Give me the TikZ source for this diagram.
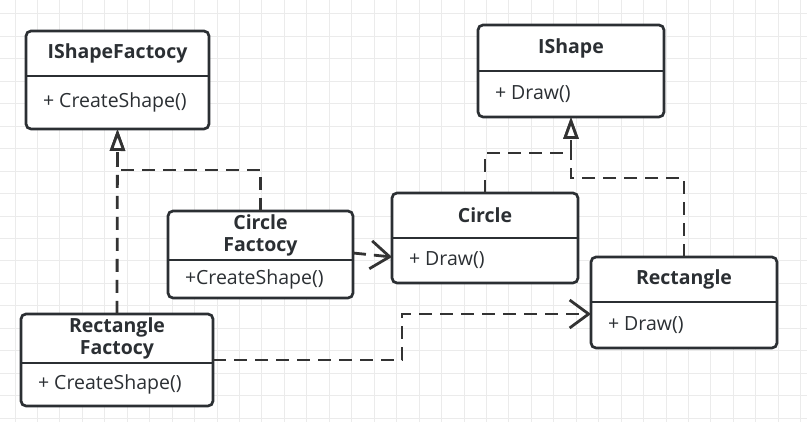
\documentclass[tikz,border=0pt]{standalone}
\usepackage{fontspec}
\setmainfont{Open Sans}
\usetikzlibrary{positioning,arrows.meta}
\definecolor{ink}{HTML}{2B2F33}
\definecolor{gridline}{HTML}{EBEBEB}
\definecolor{wire}{HTML}{333333}

% クラスの箱: 名前, x, y, 幅, 高さ, 見出しの高さ, 見出し, 操作
\newcommand{\umlclass}[8]{%
  \node[classframe, minimum width=#4pt, minimum height=#5pt] (#1) at (#2,#3) {};
  \node[classtitle, minimum width=#4pt, minimum height=#6pt, below=0pt of #1.north] (#1T) {#7};
  \coordinate (#1D) at (#1.west |- #1T.south);
  \draw[classline] (#1D) -- (#1.east |- #1T.south);
  \node[classattr, minimum height=#5pt-#6pt, below right=0pt of #1D] (#1A) {#8};
}

\begin{document}
\begin{tikzpicture}[x=1pt, y=1pt,
    classframe/.style={draw=ink, line width=2.7pt, rounded corners=5pt, fill=white, outer sep=0pt},
    classtitle/.style={inner sep=0pt, outer sep=0pt, align=center, text=ink,
      font=\fontsize{19.5}{22}\selectfont\bfseries},
    classline/.style={draw=ink, line width=2.7pt},
    classattr/.style={inner xsep=17pt, inner ysep=0pt, outer sep=0pt, text=ink,
      font=\fontsize{19.5}{22}\selectfont},
    wire/.style={draw=wire, line width=2.8pt, dash pattern=on 13pt off 8pt},
    realize/.style={wire, -{Triangle[length=22pt, width=15pt, fill=white]}},
    depend/.style={wire, -{Straight Barb[length=19pt, width=28pt]}}]
  % 背景の方眼
  \useasboundingbox[fill=white] (0,0) rectangle (807,422);
  \foreach \k in {0,...,35}
    \draw[gridline, line width=1pt] ({15+22.45*\k},0) -- ({15+22.45*\k},422);
  \foreach \k in {0,...,18}
    \draw[gridline, line width=1pt] (0,{408-22.45*\k}) -- (807,{408-22.45*\k});
  % 工場のインタフェース
  \umlclass{isf}{117.5}{342}{183}{98}{45}{IShapeFactocy}{+ CreateShape()}
  % 図形のインタフェース
  \umlclass{ish}{571}{351}{186}{92}{46}{IShape}{+ Draw()}
  % 円の工場
  \umlclass{cf}{260.5}{167.5}{185}{87}{49}{Circle\\Factocy}{+CreateShape()}
  % 円
  \umlclass{cir}{485}{184}{186}{90}{45}{Circle}{+ Draw()}
  % 長方形の工場
  \umlclass{rf}{117}{62}{192}{92}{49}{Rectangle\\Factocy}{+ CreateShape()}
  % 長方形
  \umlclass{rect}{684}{119.5}{186}{91}{45}{Rectangle}{+ Draw()}
  % 工場からインタフェースへの実現
  \draw[realize] (rf.north) -- (isf.south);
  \draw[realize] (cf.north) -- ++(0,41) -| (isf.south);
  % 図形からインタフェースへの実現
  \draw[realize] (cir.north) -- ++(0,40) -| (ish.south);
  \draw[realize] (rect.north) -- ++(0,79) -| (ish.south);
  % 工場から図形への依存
  \draw[depend] ([yshift=1.5pt]cf.east) -- ([yshift=-19pt]cir.west);
  \draw[depend] (rf.east) -- ++(189,0) |- ([yshift=-11.5pt]rect.west);
\end{tikzpicture}
\end{document}
